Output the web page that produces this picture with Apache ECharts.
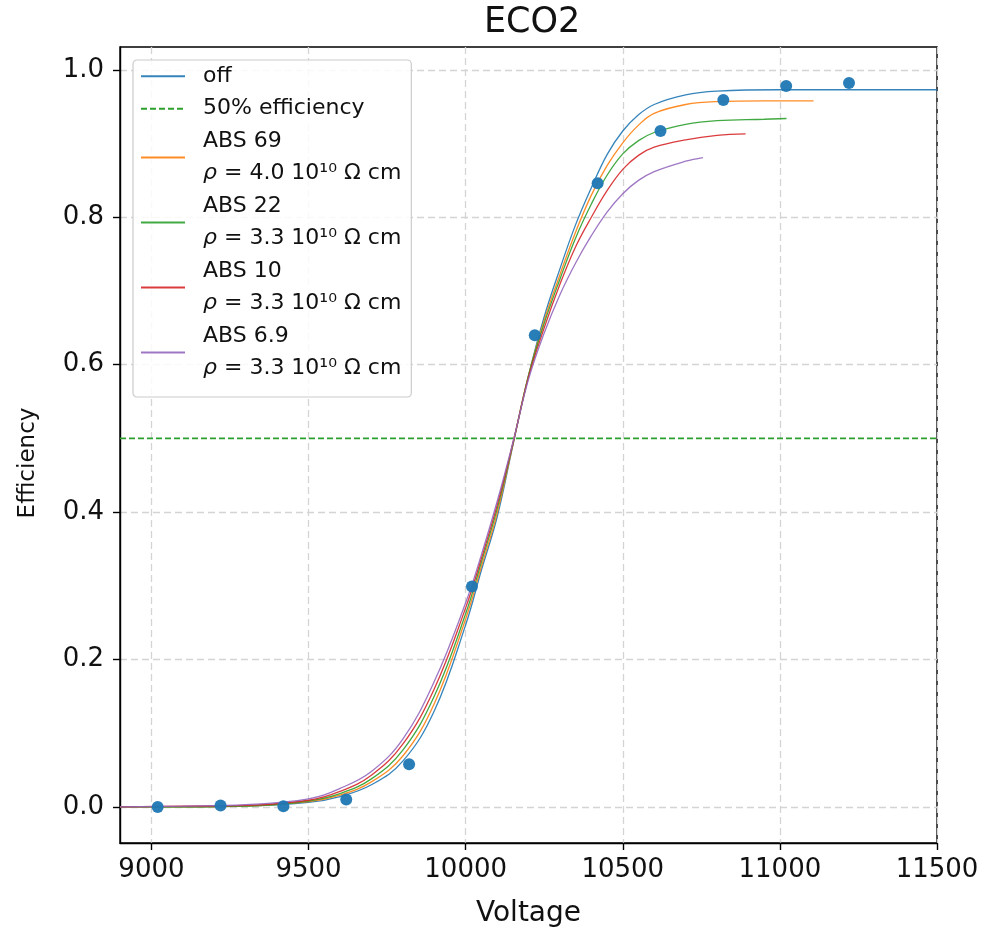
<!DOCTYPE html>
<html>
<head>
<meta charset="utf-8">
<script src="https://cdn.jsdelivr.net/npm/echarts@6/dist/echarts.min.js"></script>
<style>html,body{margin:0;padding:0;background:#fff}#c{width:989px;height:937px}</style>
</head>
<body>
<div id="c"></div>
<script>
// ---- data ----
const xTicks = [9000, 9500, 10000, 10500, 11000, 11500];
const yTicks = [0.0, 0.2, 0.4, 0.6, 0.8, 1.0];

const scatterV = [9020, 9220, 9420, 9620, 9820, 10020, 10220, 10420, 10620, 10820, 11020, 11220];
const scatterE = [0.000, 0.002, 0.001, 0.010, 0.058, 0.299, 0.640, 0.846, 0.917, 0.959, 0.978, 0.982];

const offV = [8900, 9100, 9300, 9500, 9600, 9700, 9800, 9900, 10000, 10050, 10100, 10150, 10200, 10250, 10300, 10350, 10400, 10450, 10500, 10550, 10600, 10700, 10800, 11000, 11500];
const offE = [0.000, 0.000, 0.001, 0.006, 0.014, 0.030, 0.062, 0.130, 0.247, 0.321, 0.393, 0.490, 0.585, 0.665, 0.730, 0.790, 0.840, 0.885, 0.917, 0.939, 0.953, 0.966, 0.971, 0.973, 0.973];

const abs69V = [8900, 9100, 9300, 9500, 9600, 9700, 9800, 9900, 10000, 10050, 10100, 10150, 10200, 10250, 10300, 10350, 10400, 10450, 10500, 10550, 10600, 10700, 10800, 10950, 11107];
const abs69E = [0.000, 0.000, 0.001, 0.007, 0.016, 0.034, 0.069, 0.140, 0.255, 0.326, 0.398, 0.491, 0.585, 0.660, 0.722, 0.780, 0.830, 0.870, 0.901, 0.925, 0.941, 0.953, 0.957, 0.958, 0.958];

const abs22V = [8900, 9100, 9300, 9500, 9600, 9700, 9800, 9900, 10000, 10050, 10100, 10150, 10200, 10250, 10300, 10350, 10400, 10450, 10500, 10550, 10600, 10700, 10800, 10950, 11021];
const abs22E = [0.000, 0.000, 0.001, 0.008, 0.018, 0.038, 0.077, 0.150, 0.262, 0.332, 0.404, 0.492, 0.585, 0.656, 0.716, 0.772, 0.818, 0.857, 0.886, 0.904, 0.915, 0.926, 0.931, 0.933, 0.934];

const abs10V = [8900, 9100, 9300, 9500, 9600, 9700, 9800, 9900, 10000, 10050, 10100, 10150, 10200, 10250, 10300, 10350, 10400, 10450, 10500, 10550, 10600, 10700, 10800, 10891];
const abs10E = [0.000, 0.001, 0.002, 0.009, 0.021, 0.043, 0.085, 0.160, 0.270, 0.337, 0.409, 0.493, 0.583, 0.650, 0.709, 0.760, 0.800, 0.836, 0.865, 0.884, 0.895, 0.905, 0.911, 0.913];

const abs6_9V = [8900, 9100, 9300, 9500, 9600, 9700, 9800, 9900, 10000, 10050, 10100, 10150, 10200, 10250, 10300, 10350, 10400, 10450, 10500, 10550, 10600, 10700, 10755];
const abs6_9E = [0.000, 0.001, 0.003, 0.011, 0.025, 0.048, 0.092, 0.170, 0.277, 0.342, 0.414, 0.494, 0.580, 0.643, 0.695, 0.738, 0.775, 0.807, 0.832, 0.850, 0.862, 0.876, 0.881];

const halfV = [8900, 11500];
const halfE = [0.5, 0.5];

const seriesNames = ['off', '50% efficiency', 'ABS 69', 'ABS 22', 'ABS 10', 'ABS 6.9'];
const rhoText = { 'ABS 69': '4.0', 'ABS 22': '3.3', 'ABS 10': '3.3', 'ABS 6.9': '3.3' };
const colors = { 'off': '#1f77b4', '50% efficiency': '#2ca02c', 'ABS 69': '#ff7f0e', 'ABS 22': '#2ca02c', 'ABS 10': '#d62728', 'ABS 6.9': '#9467bd' };

function zip(xs, ys) { return xs.map((x, i) => [x, ys[i]]); }

const font = 'DejaVu Sans';
const chart = echarts.init(document.getElementById('c'), null, { renderer: 'canvas' });

function curve(name, xs, ys) {
  return {
    name: name, type: 'line', data: zip(xs, ys), symbol: 'none', showSymbol: false,
    smooth: 0.4,
    lineStyle: { color: colors[name], width: 1.3, opacity: 0.9 },
    itemStyle: { color: colors[name] }, z: 3
  };
}

const option = {
  animation: false,
  backgroundColor: '#ffffff',
  textStyle: { fontFamily: font },
  title: {
    text: 'ECO2', left: 479, top: 0,
    textStyle: { fontSize: 35, fontWeight: 'normal', color: '#111', fontFamily: font }
  },
  grid: { left: 120, right: 52, top: 47, bottom: 94, show: true, borderColor: '#000', borderWidth: 1.4, backgroundColor: 'transparent' },
  legend: {
    data: seriesNames, orient: 'vertical', left: 133, top: 60,
    itemGap: 0, itemWidth: 44, itemHeight: 14,
    padding: [0, 10, 12, 7],
    backgroundColor: 'rgba(255,255,255,0.85)', borderColor: '#cccccc', borderWidth: 1.2, borderRadius: 4,
    itemStyle: { opacity: 0 },
    textStyle: {
      fontSize: 22, color: '#111', fontFamily: font, lineHeight: 32.5, padding: [0, 0, 0, 13],
      rich: { it: { fontStyle: 'italic', fontSize: 22, lineHeight: 32.5, fontFamily: font, color: '#111' },
              n: { fontSize: 22, lineHeight: 32.5, fontFamily: font, color: '#111' } }
    },
    formatter: function (name) {
      if (rhoText[name]) {
        return '{n|' + name + '}\n{it|ρ}{n| = ' + rhoText[name] + ' 10¹⁰ Ω cm}';
      }
      return name;
    }
  },
  xAxis: {
    type: 'value', min: 8900, max: 11500,
    name: 'Voltage', nameLocation: 'middle', nameGap: 57,
    nameTextStyle: { fontSize: 28, color: '#111', fontFamily: font },
    axisLine: { show: true, onZero: false, lineStyle: { color: '#000', width: 1.4 } },
    axisTick: { show: true, length: 7, inside: false, customValues: xTicks, lineStyle: { color: '#000', width: 1.4 } },
    axisLabel: { customValues: xTicks, fontSize: 26, margin: 14, color: '#111', fontFamily: font,
                 formatter: v => String(Math.round(v)) },
    splitLine: { show: true, lineStyle: { color: '#d4d4d4', type: [7, 4], width: 1.3 } }
  },
  yAxis: {
    type: 'value', min: -0.049, max: 1.031,
    name: 'Efficiency', nameLocation: 'middle', nameGap: 80, nameRotate: 90,
    nameTextStyle: { fontSize: 23, color: '#111', fontFamily: font, padding: [0, 36, 0, 0] },
    axisLine: { show: true, onZero: false, lineStyle: { color: '#000', width: 1.4 } },
    axisTick: { show: true, length: 7, inside: false, customValues: yTicks, lineStyle: { color: '#000', width: 1.4 } },
    axisLabel: { customValues: yTicks, fontSize: 26, margin: 16, color: '#111', fontFamily: font,
                 formatter: v => v.toFixed(1) },
    splitLine: { show: true, lineStyle: { color: '#d4d4d4', type: [7, 4], width: 1.3 } }
  },
  series: [
    curve('off', offV, offE),
    {
      name: '50% efficiency', type: 'line', data: zip(halfV, halfE), symbol: 'none', showSymbol: false,
      lineStyle: { color: colors['50% efficiency'], width: 1.6, type: [6, 3] },
      itemStyle: { color: colors['50% efficiency'] }, z: 3
    },
    curve('ABS 69', abs69V, abs69E),
    curve('ABS 22', abs22V, abs22E),
    curve('ABS 10', abs10V, abs10E),
    curve('ABS 6.9', abs6_9V, abs6_9E),
    {
      name: 'data', type: 'scatter', data: zip(scatterV, scatterE),
      symbol: 'circle', symbolSize: 12, itemStyle: { color: '#1f77b4', opacity: 0.95 }, z: 5
    }
  ]
};
chart.setOption(option);
</script>
</body>
</html>
